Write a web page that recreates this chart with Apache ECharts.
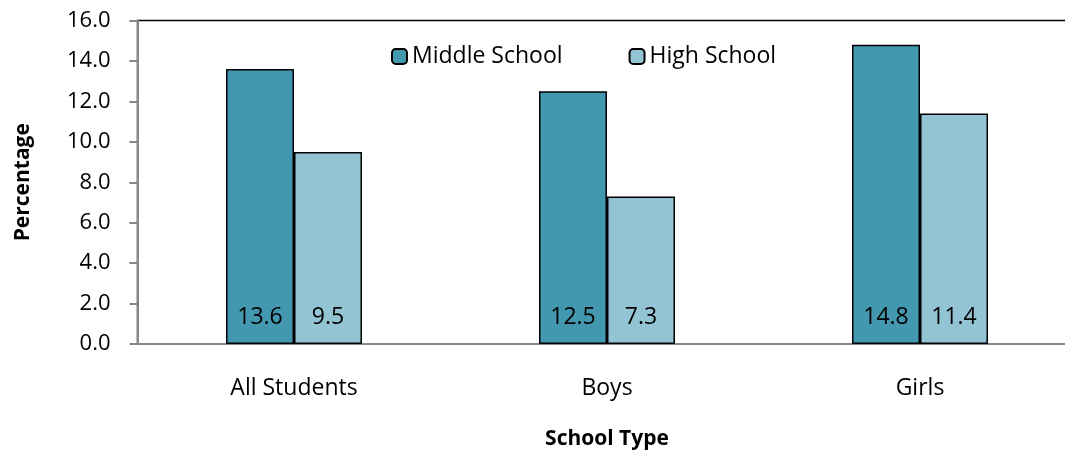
<!DOCTYPE html>
<html>
<head>
<meta charset="utf-8">
<script src="https://cdn.jsdelivr.net/npm/echarts@6/dist/echarts.min.js"></script>
<style>html,body{margin:0;padding:0;background:#fff}#c{width:1065px;height:450px}</style>
</head>
<body>
<div id="c"></div>
<script>
const categories = ['All Students', 'Boys', 'Girls'];
const middleSchool = [13.6, 12.5, 14.8];
const highSchool = [9.5, 7.3, 11.4];
const seriesNames = ['Middle School', 'High School'];
const yTicks = { min: 0, max: 16, interval: 2 };

const FONT = 'Open Sans';
const chart = echarts.init(document.getElementById('c'));
const lbl = {
  show: true, position: 'insideBottom', distance: 15,
  color: '#000', fontFamily: FONT, fontSize: 23,
  formatter: p => p.value.toFixed(1)
};
chart.setOption({
  animation: false,
  textStyle: { fontFamily: FONT },
  grid: { left: 137.5, width: 939, top: 20.5, height: 323.5, outerBoundsMode: 'none', containLabel: false,
          show: true, borderColor: '#000', borderWidth: 1.5 },
  legend: {
    data: seriesNames, left: 386, top: 40, itemWidth: 15, itemHeight: 15, itemGap: 66,
    textStyle: { fontFamily: FONT, fontSize: 23, color: '#000' }
  },
  xAxis: {
    type: 'category', data: categories,
    name: 'School Type', nameLocation: 'middle', nameGap: 85,
    nameTextStyle: { fontFamily: FONT, fontSize: 21, fontWeight: 'bold', color: '#000' },
    axisLine: { lineStyle: { color: '#888', width: 2 } },
    axisTick: { show: false },
    axisLabel: { color: '#000', fontFamily: FONT, fontSize: 23, margin: 33 }
  },
  yAxis: {
    type: 'value', min: yTicks.min, max: yTicks.max, interval: yTicks.interval,
    name: 'Percentage', nameLocation: 'middle', nameGap: 104, nameRotate: 90,
    nameTextStyle: { fontFamily: FONT, fontSize: 21, fontWeight: 'bold', color: '#000' },
    axisLine: { show: true, lineStyle: { color: '#888', width: 2 } },
    axisTick: { show: true, length: 8, lineStyle: { color: '#888', width: 2 } },
    splitLine: { show: false },
    axisLabel: { color: '#000', fontFamily: FONT, fontSize: 22, margin: 27, formatter: v => v.toFixed(1) }
  },
  series: [
    { name: seriesNames[0], type: 'bar', data: middleSchool, barWidth: 68, barGap: '0%',
      itemStyle: { color: '#4398AF', borderColor: '#000', borderWidth: 1.5 }, label: lbl },
    { name: seriesNames[1], type: 'bar', data: highSchool, barWidth: 68, barGap: '0%',
      itemStyle: { color: '#93C4D4', borderColor: '#000', borderWidth: 1.5 }, label: lbl }
  ]
});
</script>
</body>
</html>
